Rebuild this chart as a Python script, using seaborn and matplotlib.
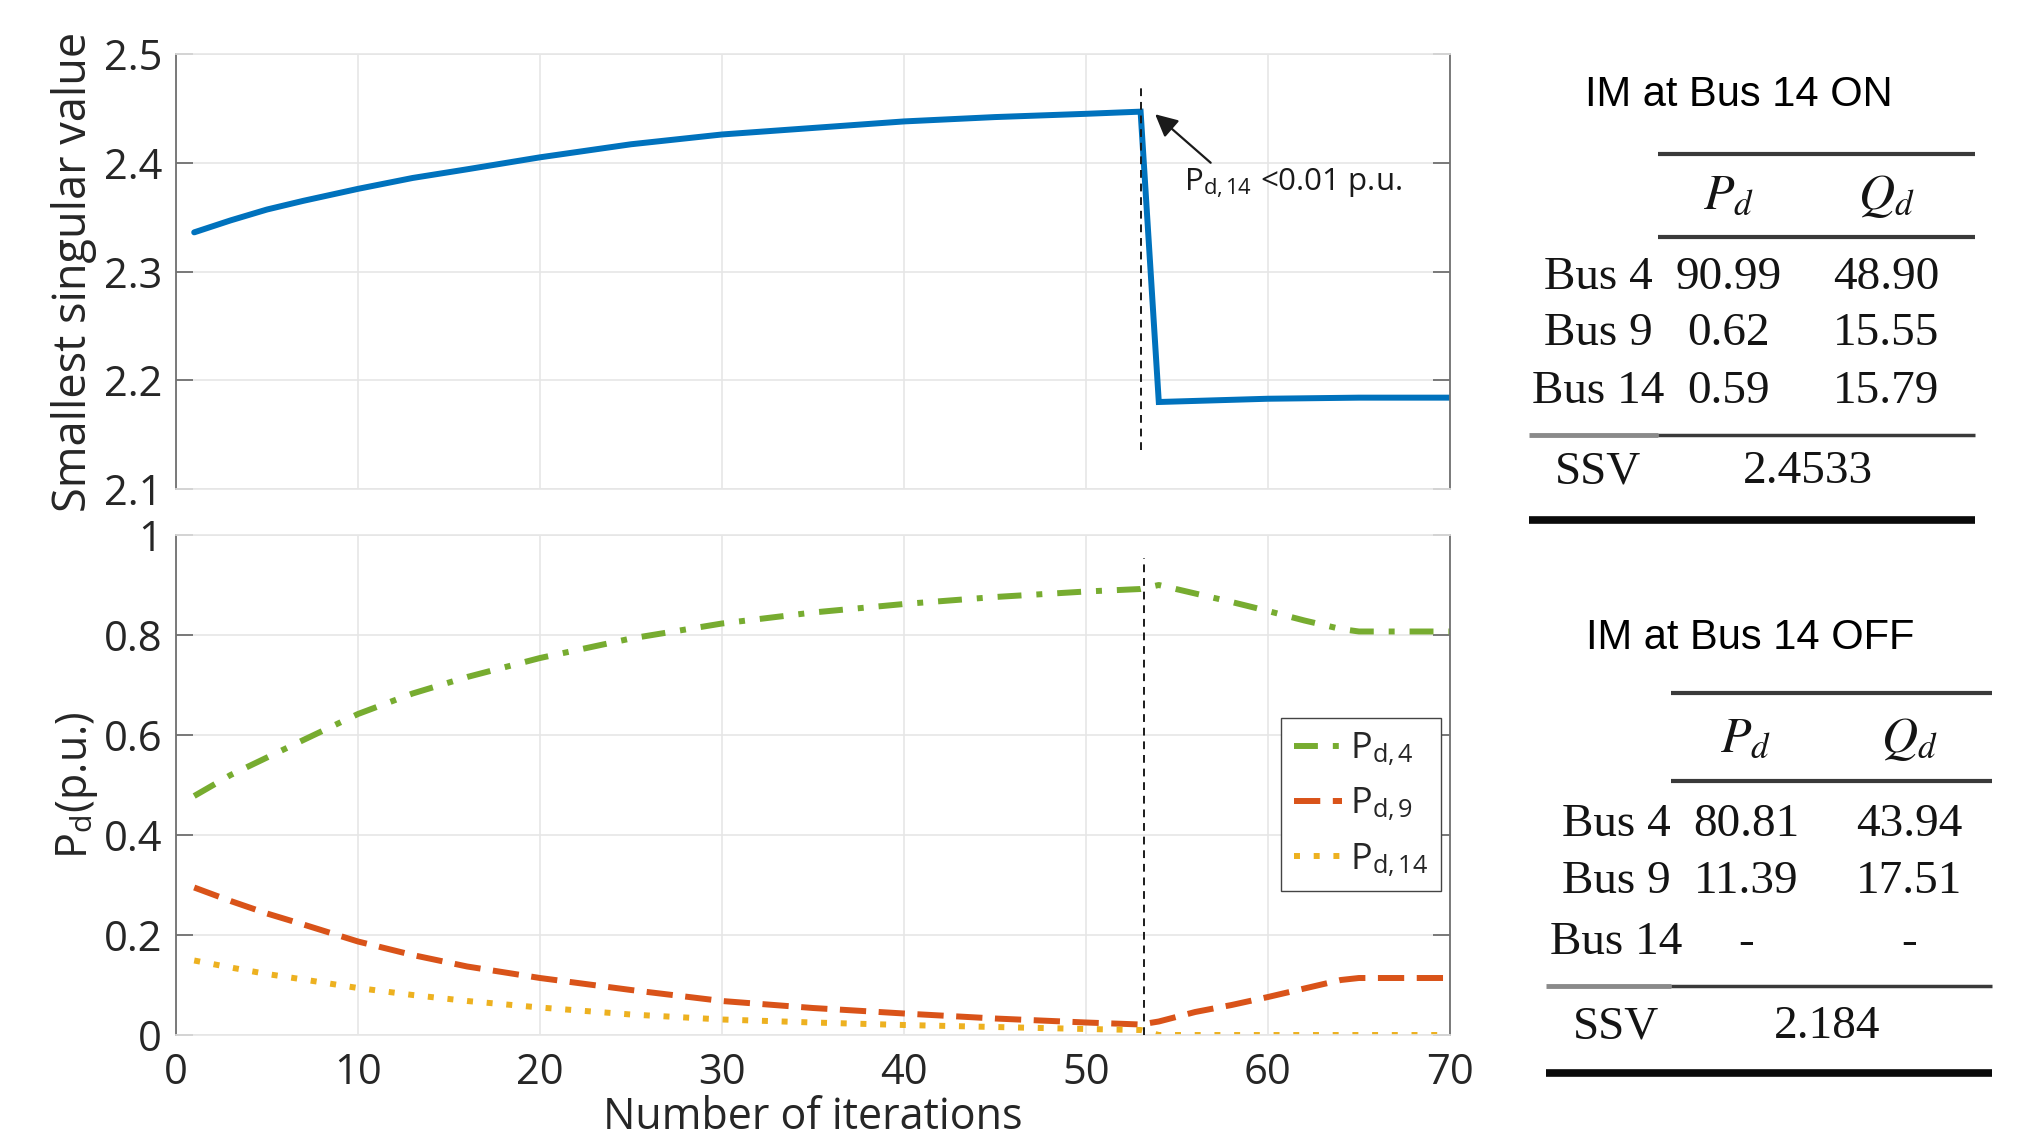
import matplotlib
matplotlib.use("Agg")
import matplotlib.pyplot as plt
from matplotlib.lines import Line2D
import seaborn as sns
import pandas as pd

# ---------------- data ----------------
iters_top = [1, 3, 5, 7, 10, 13, 16, 20, 25, 30, 35, 40, 45, 50, 53, 54, 56, 60, 65, 70]
ssv = [2.336, 2.347, 2.357, 2.365, 2.376, 2.386, 2.394, 2.405, 2.417, 2.426,
       2.432, 2.438, 2.442, 2.445, 2.447, 2.180, 2.181, 2.183, 2.184, 2.184]

iters_bot = [1, 3, 5, 7, 10, 13, 16, 20, 25, 30, 35, 40, 45, 50, 53, 54, 56, 58,
             60, 62, 64, 65, 67, 70]
pd4 = [0.478, 0.520, 0.555, 0.590, 0.642, 0.683, 0.716, 0.754, 0.793, 0.823,
       0.845, 0.862, 0.876, 0.887, 0.892, 0.900, 0.883, 0.866, 0.848, 0.829,
       0.812, 0.807, 0.807, 0.807]
pd9 = [0.295, 0.268, 0.243, 0.221, 0.187, 0.160, 0.137, 0.114, 0.090, 0.068,
       0.054, 0.043, 0.033, 0.025, 0.021, 0.027, 0.046, 0.060, 0.076, 0.093,
       0.110, 0.114, 0.114, 0.114]
pd14 = [0.149, 0.135, 0.122, 0.111, 0.094, 0.080, 0.068, 0.055, 0.041, 0.031,
        0.025, 0.020, 0.016, 0.012, 0.010, 0.0, 0.0, 0.0, 0.0, 0.0, 0.0, 0.0,
        0.0, 0.0]

switch_top = 53.0
switch_bot = 53.2

x_ticks = [0, 10, 20, 30, 40, 50, 60, 70]
top_yticks = [2.1, 2.2, 2.3, 2.4, 2.5]
bot_yticks = [0, 0.2, 0.4, 0.6, 0.8, 1.0]
bot_yticklabels = ["0", "0.2", "0.4", "0.6", "0.8", "1"]

legend_labels = [r"P$_{\mathregular{d,4}}$", r"P$_{\mathregular{d,9}}$", r"P$_{\mathregular{d,14}}$"]

tab_rows = ["Bus 4", "Bus 9", "Bus 14"]
on_title = "IM at Bus 14 ON"
on_pd = ["90.99", "0.62", "0.59"]
on_qd = ["48.90", "15.55", "15.79"]
on_ssv = "2.4533"
off_title = "IM at Bus 14 OFF"
off_pd = ["80.81", "11.39", "-"]
off_qd = ["43.94", "17.51", "-"]
off_ssv = "2.184"

# ---------------- style ----------------
sns.set_theme(style="whitegrid")
plt.rcParams["font.family"] = ["Open Sans", "DejaVu Sans"]
plt.rcParams["mathtext.fontset"] = "stix"

BLUE = "#0072BD"
GREEN = "#77AC30"
RED = "#D95319"
YELLOW = "#EDB120"
GRID = "#e6e6e6"
SPINE = "#707070"
TXT = "#262626"

W, H = 2029, 1138
fig = plt.figure(figsize=(W / 100, H / 100), dpi=100)


def fx(px):
    return px / W


def fy(py):
    return 1 - py / H


ax1 = fig.add_axes([fx(176), fy(489), (1450 - 176) / W, (489 - 54) / H])
ax2 = fig.add_axes([fx(176), fy(1035), (1450 - 176) / W, (1035 - 535) / H])

df_top = pd.DataFrame({"iter": iters_top, "ssv": ssv})
df_bot = pd.DataFrame({"iter": iters_bot, "pd4": pd4, "pd9": pd9, "pd14": pd14})

LW = 4.3
sns.lineplot(data=df_top, x="iter", y="ssv", ax=ax1, color=BLUE, linewidth=LW,
             estimator=None, sort=False, solid_joinstyle="miter")
sns.lineplot(data=df_bot, x="iter", y="pd4", ax=ax2, color=GREEN, linewidth=LW,
             linestyle=(0, (4.0, 2.5, 1.0, 2.5)), estimator=None, sort=False,
             label=legend_labels[0])
sns.lineplot(data=df_bot, x="iter", y="pd9", ax=ax2, color=RED, linewidth=LW,
             linestyle=(0, (4.4, 2.1)), estimator=None, sort=False,
             label=legend_labels[1])
sns.lineplot(data=df_bot, x="iter", y="pd14", ax=ax2, color=YELLOW, linewidth=LW,
             linestyle=(0, (1.0, 2.3)), estimator=None, sort=False,
             label=legend_labels[2])

# vertical switch markers
ax1.plot([switch_top, switch_top], [2.136, 2.4705], color="k", lw=1.4,
         linestyle=(0, (4, 3)), zorder=5)
ax2.plot([switch_bot, switch_bot], [0.0, 0.955], color="k", lw=1.4,
         linestyle=(0, (4, 3)), zorder=5)

for ax in (ax1, ax2):
    ax.set_xlim(0, 70)
    ax.set_xticks(x_ticks)
    ax.grid(True, color=GRID, lw=1.2)
    ax.set_facecolor("white")
    for s in ("left", "right"):
        ax.spines[s].set_color(SPINE)
        ax.spines[s].set_linewidth(1.3)
        ax.spines[s].set_visible(True)
    for s in ("top", "bottom"):
        ax.spines[s].set_color(GRID)
        ax.spines[s].set_linewidth(1.2)
        ax.spines[s].set_visible(True)
    ax.tick_params(axis="y", which="both", direction="in", length=12, width=1.3,
                   color=SPINE, left=True, right=True, labelsize=30,
                   labelcolor=TXT, pad=10)
    ax.tick_params(axis="x", which="both", length=0, labelsize=30,
                   labelcolor=TXT, pad=12)

ax1.set_ylim(2.1, 2.5)
ax1.set_yticks(top_yticks)
ax1.set_yticklabels([f"{v:.1f}" for v in top_yticks])
ax1.set_xticklabels([])
ax1.set_xlabel("")
ax1.set_ylabel("Smallest singular value", fontsize=32.5, color=TXT)
ax1.yaxis.set_label_coords(-0.062, 0.5)

ax2.set_ylim(0, 1)
ax2.set_yticks(bot_yticks)
ax2.set_yticklabels(bot_yticklabels)
ax2.set_xlabel("Number of iterations", fontsize=31, color=TXT, labelpad=1)
ax2.set_ylabel(r"P$_{\mathregular{d}}$(p.u.)", fontsize=31, color=TXT)
ax2.yaxis.set_label_coords(-0.060, 0.5)

# annotation
ax1.annotate("", xy=(53.8, 2.4446), xytext=(56.85, 2.400),
             arrowprops=dict(arrowstyle="-|>", color="k", lw=1.6,
                             mutation_scale=34, shrinkA=0, shrinkB=0))
ax1.text(55.4, 2.381, r"P$_{\mathregular{d,14}}$ <0.01 p.u.", fontsize=22.5,
         color="k", va="center", ha="left")

leg = ax2.legend(loc="upper right", bbox_to_anchor=(0.9926, 0.634),
                 fontsize=26, handlelength=1.35, handletextpad=0.2,
                 labelspacing=0.5, borderpad=0.35, borderaxespad=0.0,
                 fancybox=False, framealpha=1, edgecolor="#444444")
leg.get_frame().set_linewidth(1.0)

# ---------------- tables ----------------
SERIF = ["Liberation Serif", "DejaVu Serif"]
TFS = 34
TCOL = "#141414"


def hline(x0, x1, y, color, lw):
    fig.add_artist(Line2D([fx(x0), fx(x1)], [fy(y), fy(y)], color=color,
                          lw=lw, transform=fig.transFigure, solid_capstyle="butt"))


def table(title, ty, tx, top, head, hrule, rows_y, mid, ssv_y, bot,
          lx, rx, lab_x, pd_x, qd_x, ssv_x, pdv, qdv, ssvv, split):
    fig.text(fx(tx), fy(ty), title, fontsize=30, family=["Liberation Sans", "DejaVu Sans"],
             ha="center", va="center", color="black")
    hline(split, rx, top, "#3a3a3a", 3.0)
    fig.text(fx(pd_x), fy(head), r"$P_d$", fontsize=36, ha="center", va="center", color=TCOL)
    fig.text(fx(qd_x), fy(head), r"$Q_d$", fontsize=36, ha="center", va="center", color=TCOL)
    hline(split, rx, hrule, "#3a3a3a", 3.0)
    for lab, p, q, y in zip(tab_rows, pdv, qdv, rows_y):
        fig.text(fx(lab_x), fy(y), lab, fontsize=TFS, family=SERIF, ha="center",
                 va="center", color=TCOL)
        fig.text(fx(pd_x), fy(y), p, fontsize=TFS, family=SERIF, ha="center",
                 va="center", color=TCOL)
        fig.text(fx(qd_x), fy(y), q, fontsize=TFS, family=SERIF, ha="center",
                 va="center", color=TCOL)
    hline(lx, split, mid, "#8a8a8a", 3.5)
    hline(split, rx, mid, "#3a3a3a", 2.5)
    fig.text(fx(lab_x), fy(ssv_y), "SSV", fontsize=TFS, family=SERIF, ha="center",
             va="center", color=TCOL)
    fig.text(fx(ssv_x), fy(ssv_y), ssvv, fontsize=TFS, family=SERIF, ha="center",
             va="center", color=TCOL)
    hline(lx, rx, bot, "#0a0a0a", 5.5)


table(on_title, 95, 1739, 154, 196, 237, [278, 334, 392], 435, 472, 520,
      1529, 1975, 1598, 1729, 1886, 1808, on_pd, on_qd, on_ssv, 1658)
table(off_title, 638, 1750, 693, 739, 781, [825, 882, 943], 986, 1027, 1073,
      1546, 1992, 1616, 1746, 1909, 1827, off_pd, off_qd, off_ssv, 1671)

fig.savefig("out.png", dpi=100, facecolor="white")
